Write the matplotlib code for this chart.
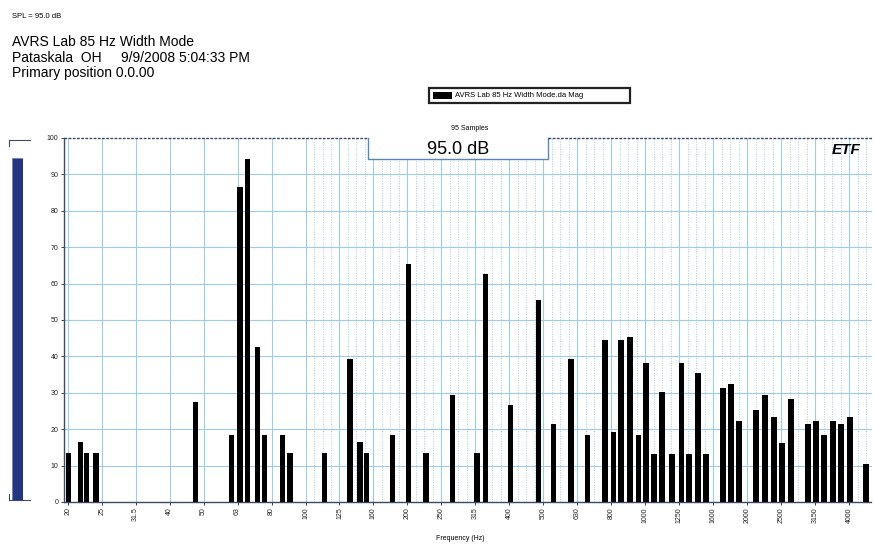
"""
ETF RTA display - AVRS Lab 85 Hz Width Mode (1/12 octave magnitude bars).
"""
import numpy as np
import matplotlib
matplotlib.use('Agg')
import matplotlib.pyplot as plt
from matplotlib.patches import Rectangle
from matplotlib.lines import Line2D

plt.rcParams['font.family'] = ['Liberation Sans', 'DejaVu Sans']

NAVY = '#22357e'
GRID = '#9fcbe8'
FRAME = '#3c4a66'

# bar centre frequencies (Hz) and levels (dB)
freqs = [20.1, 21.8, 22.7, 24.2, 47.7, 61.0, 64.6, 68.0, 72.7, 76.3,
         86.2, 90.7, 114.7, 136.4, 146, 152.6, 182, 203, 229, 274,
         324, 343, 406, 491, 544, 614, 685, 774, 818, 863,
         917, 969, 1023, 1080, 1140, 1220, 1298, 1370, 1456, 1538,
         1726, 1823, 1924, 2160, 2296, 2441, 2578, 2740, 3076, 3248,
         3430, 3645, 3848, 4090, 4560]
levels = [13.5, 16.5, 13.5, 13.5, 27.5, 18.3, 86.5, 94.2, 42.5, 18.3,
          18.3, 13.5, 13.5, 39.3, 16.5, 13.5, 18.3, 65.3, 13.5, 29.4,
          13.5, 62.7, 26.6, 55.5, 21.4, 39.3, 18.3, 44.5, 19.3, 44.5,
          45.4, 18.3, 38.3, 13.3, 30.3, 13.3, 38.3, 13.3, 35.5, 13.3,
          31.4, 32.3, 22.2, 25.4, 29.4, 23.4, 16.3, 28.4, 21.4, 22.2,
          18.3, 22.2, 21.4, 23.4, 10.4]

tick_labels = ['20', '25', '31.5', '40', '50', '63', '80', '100', '125', '160',
               '200', '250', '315', '400', '500', '630', '800', '1000', '1250',
               '1600', '2000', '2500', '3150', '4000']
y_ticks = [0, 10, 20, 30, 40, 50, 60, 70, 80, 90, 100]

spl = 95.0
n_samples = 95

W, H = 874, 544
fig = plt.figure(figsize=(W / 100, H / 100), dpi=100)


def px(x0, y0, x1, y1):
    """pixel box -> figure rect"""
    return [x0 / W, 1 - y1 / H, (x1 - x0) / W, (y1 - y0) / H]


# ---- header texts
fig.text(12 / W, 1 - 17 / H, f'SPL = {spl:.1f} dB', fontsize=5.5, va='center')
fig.text(12 / W, 1 - 42 / H, 'AVRS Lab 85 Hz Width Mode', fontsize=10, va='center')
fig.text(12 / W, 1 - 58 / H, 'Pataskala  OH     9/9/2008 5:04:33 PM', fontsize=10, va='center')
fig.text(12 / W, 1 - 73 / H, 'Primary position 0.0.00', fontsize=10, va='center')

# ---- legend box
fig.patches.append(Rectangle((429 / W, 1 - 103 / H), 201 / W, 15 / H,
                             transform=fig.transFigure, facecolor='white',
                             edgecolor='#222222', lw=1.6))
fig.patches.append(Rectangle((433 / W, 1 - 99 / H), 19 / W, 7 / H,
                             transform=fig.transFigure, facecolor='black', edgecolor='none'))
fig.text(455 / W, 1 - 95.5 / H, 'AVRS Lab 85 Hz Width Mode.da Mag', fontsize=5.5, va='center')

# ---- main axes
ax = fig.add_axes(px(64, 138, 872, 502))
lo = [f * 2 ** (-0.027) for f in freqs]
wd = [f * (2 ** 0.027 - 2 ** (-0.027)) for f in freqs]
ax.bar(lo, levels, width=wd, align='edge', color='black', zorder=3)

ax.set_xscale('log')
ax.set_xlim(19.5, 4750)
ax.set_ylim(0, 100)

third = [20 * 2 ** (k / 3) for k in range(len(tick_labels))]
ax.set_xticks(third)
ax.set_xticklabels(tick_labels, rotation=90, fontsize=5)
ax.xaxis.set_minor_locator(matplotlib.ticker.NullLocator())
ax.set_yticks(y_ticks)
ax.set_yticklabels([str(v) for v in y_ticks], fontsize=5)
ax.tick_params(axis='both', length=2, width=0.6, pad=2, colors='#222222')

# grid: solid at 10 dB / third octaves, dotted at twelfth octaves above ~100 Hz
for v in y_ticks[1:-1]:
    ax.axhline(v, color=GRID, lw=0.8, zorder=1)
for f in third:
    ax.axvline(f, color=GRID, lw=0.8, zorder=1)
for k in range(96):
    f = 20 * 2 ** (k / 12)
    if k % 4 and f > 100:
        ax.axvline(f, color=GRID, lw=0.7, ls=(0, (1, 1.5)), zorder=1)

for s in ['top', 'right']:
    ax.spines[s].set_visible(False)
ax.spines['left'].set_color(FRAME)
ax.spines['left'].set_linewidth(1.0)
ax.spines['bottom'].set_color(FRAME)
ax.spines['bottom'].set_linewidth(1.0)
ax.spines['bottom'].set_linestyle((0, (2, 1)))

# notch holding the level readout
ax.add_patch(Rectangle((367 / W, 138 / H), 183 / W, 22 / H, transform=None,
                       facecolor='none'))
fig.patches.append(Rectangle((367 / W, 1 - 159 / H), 181 / W, 21 / H,
                             transform=fig.transFigure, facecolor='white',
                             edgecolor='none', zorder=5))
top_x = [64, 368, 368, 548, 548, 872]
top_y = [138, 138, 159, 159, 138, 138]
fig.lines.append(Line2D([x / W for x in top_x[:2]], [1 - y / H for y in top_y[:2]],
                        transform=fig.transFigure, color=FRAME, lw=1.0,
                        ls=(0, (2, 1)), zorder=6))
fig.lines.append(Line2D([x / W for x in top_x[1:5]], [1 - y / H for y in top_y[1:5]],
                        transform=fig.transFigure, color='#5a87b0', lw=1.0, zorder=6))
fig.lines.append(Line2D([x / W for x in top_x[4:]], [1 - y / H for y in top_y[4:]],
                        transform=fig.transFigure, color=FRAME, lw=1.0,
                        ls=(0, (2, 1)), zorder=6))
fig.text(470 / W, 1 - 128 / H, f'{n_samples} Samples', fontsize=5, ha='center', va='center')
fig.text(458 / W, 1 - 150 / H, f'{spl:.1f} dB', fontsize=13, ha='center', va='center',
         zorder=7)

# ETF logo
fig.text(846 / W, 1 - 150 / H, 'ETF', fontsize=11, fontweight='bold', style='italic',
         ha='center', va='center')

fig.text(460 / W, 1 - 538 / H, 'Frequency (Hz)', fontsize=5, ha='center', va='center')

# ---- SPL meter on the left
mx = fig.add_axes(px(12, 140, 23, 500))
mx.bar([0], [spl], width=1.0, color=NAVY, edgecolor='#6f7fb0', lw=0.6)
mx.set_xlim(-0.5, 0.5)
mx.set_ylim(0, 100)
mx.axis('off')
for yy in (140, 500):
    fig.lines.append(Line2D([9 / W, 30 / W], [1 - yy / H] * 2,
                            transform=fig.transFigure, color=FRAME, lw=0.8))
    fig.lines.append(Line2D([9 / W, 9 / W], [1 - yy / H, 1 - (yy + (6 if yy < 300 else -6)) / H],
                            transform=fig.transFigure, color=FRAME, lw=0.8))

fig.savefig('out.png', dpi=100)
